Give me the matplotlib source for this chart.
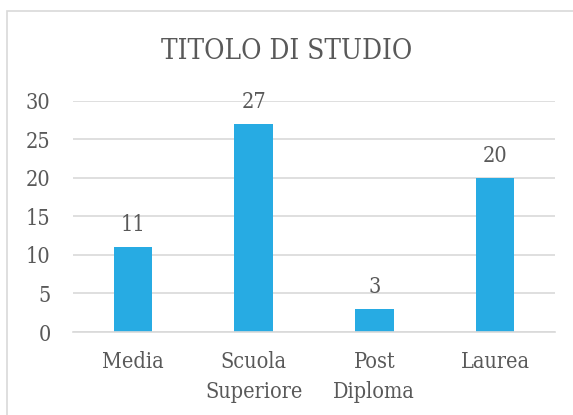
import numpy as np
import matplotlib
matplotlib.use('Agg')
import matplotlib.pyplot as plt
from matplotlib.patches import Rectangle

categories = ['Media', 'Scuola\nSuperiore', 'Post\nDiploma', 'Laurea']
values = [11, 27, 3, 20]
yticks = [0, 5, 10, 15, 20, 25, 30]

text_color = '#595959'
bar_color = '#27ABE3'
grid_color = '#D9D9D9'

plt.rcParams['font.family'] = ['DejaVu Serif']
plt.rcParams['font.stretch'] = 'condensed'

fig = plt.figure(figsize=(5.73, 4.15), dpi=100)
ax = fig.add_axes([0.127, 0.2, 0.842, 0.557])

# chart frame (light grey border, running off right/bottom)
fig.patches.append(Rectangle((7 / 573, -0.1), 1.2, (415 - 11) / 415 + 0.1,
                             transform=fig.transFigure, fill=False,
                             edgecolor='#D9D9D9', linewidth=1.2))

x = np.arange(len(values))
bars = ax.bar(x, values, width=0.32, color=bar_color, zorder=2)

for xi, v in zip(x, values):
    ax.annotate(str(v), (xi, v), xytext=(0, 8), textcoords='offset points',
                ha='center', va='bottom', fontsize=15.5, color=text_color,
                annotation_clip=False)

ax.set_xlim(-0.5, len(values) - 0.5)
ax.set_ylim(0, 30)
ax.set_yticks(yticks)
ax.set_xticks(x)
ax.set_xticklabels(categories, fontsize=15.5, color=text_color, linespacing=1.45)
ax.tick_params(axis='y', labelsize=15.5, labelcolor=text_color, length=0, pad=16)
ax.tick_params(axis='x', length=0, pad=14)
for lbl in ax.get_yticklabels():
    lbl.set_ha('right')

ax.grid(axis='y', color=grid_color, linewidth=1.2, zorder=0)
for s in ['top', 'right', 'left']:
    ax.spines[s].set_visible(False)
ax.spines['bottom'].set_color(grid_color)
ax.spines['bottom'].set_linewidth(1.2)

fig.text(0.5, 0.877, 'TITOLO DI STUDIO', ha='center', va='center',
         fontsize=20, color=text_color)

fig.savefig('out.png', dpi=100)
